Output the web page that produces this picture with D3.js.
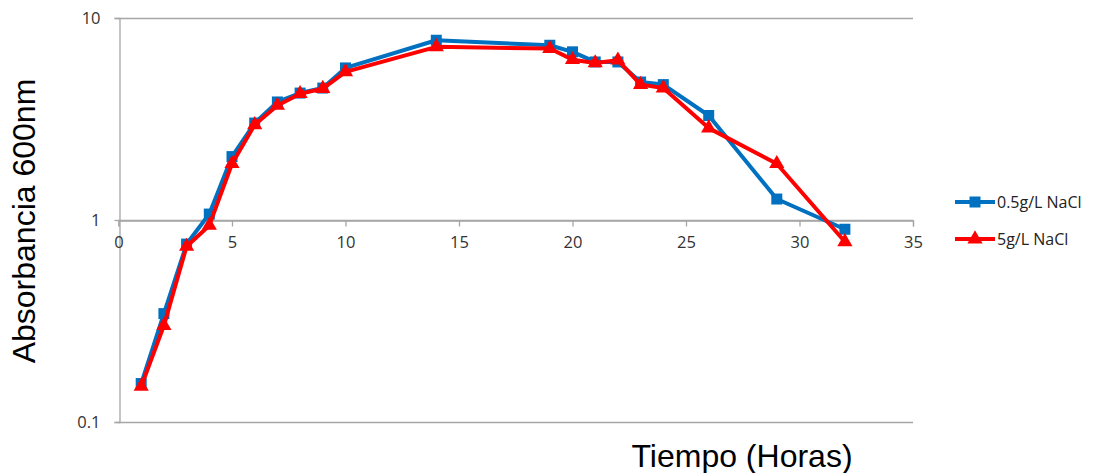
<!DOCTYPE html>
<html><head><meta charset="utf-8">
<script src="https://cdn.jsdelivr.net/npm/d3@7"></script>
<style>body{margin:0;background:#fff}</style>
</head><body><svg id="c" width="1096" height="473"></svg>
<script>
const hours = [1,2,3,4,5,6,7,8,9,10,14,19,20,21,22,23,24,26,29,32];
const lowSalt = [0.155,0.344,0.76,1.07,2.06,3.02,3.84,4.25,4.5,5.66,7.76,7.33,6.8,6.06,6.06,4.82,4.68,3.29,1.27,0.90];
const highSalt = [0.15,0.30,0.74,0.94,1.90,2.96,3.69,4.22,4.47,5.41,7.2,7.06,6.22,5.99,6.18,4.68,4.5,2.85,1.90,0.78];
const seriesNames = ["0.5g/L NaCl","5g/L NaCl"];
const xTicks = [0,5,10,15,20,25,30,35];
const yTicks = [0.1,1,10];
const yTickLabels = ["0.1","1","10"];

const svg = d3.select("#c");
const x = d3.scaleLinear().domain([0,35]).range([118.5,913]);
const y = d3.scaleLog().domain([0.1,10]).range([422,18]);
const grid = "#a6a6a6";
const tickFont = "'Open Sans', sans-serif";

// horizontal gridlines
svg.append("g").selectAll("line").data(yTicks).join("line")
  .attr("x1",x(0)).attr("x2",x(35)).attr("y1",d=>Math.round(y(d))+0.5).attr("y2",d=>Math.round(y(d))+0.5)
  .attr("stroke",grid).attr("stroke-width",1.3);

// y axis
const yAxis = d3.axisLeft(y).tickValues(yTicks).tickFormat((d,i)=>yTickLabels[i]).tickSizeOuter(0).tickSize(5).tickPadding(14);
const gy = svg.append("g").attr("transform",`translate(${Math.round(x(0))+0.5},0)`).call(yAxis);
gy.select(".domain").attr("stroke",grid).attr("stroke-width",1.3);
gy.selectAll(".tick line").attr("stroke",grid).attr("stroke-width",1.3);
gy.selectAll(".tick text").attr("font-family",tickFont).attr("font-size",16.5).attr("fill","#333");

// x axis at y=1
const xAxis = d3.axisBottom(x).tickValues(xTicks).tickSizeOuter(0).tickSize(6).tickPadding(10);
const gx = svg.append("g").attr("transform",`translate(0,${Math.round(y(1))+0.5})`).call(xAxis);
gx.select(".domain").attr("stroke",grid).attr("stroke-width",1.3);
gx.selectAll(".tick line").attr("stroke",grid).attr("stroke-width",1.3);
gx.selectAll(".tick text").attr("font-family",tickFont).attr("font-size",16.5).attr("fill","#333");

const line = d3.line().x(d=>x(d[0])).y(d=>y(d[1]));
const blue = "#0070C0", red = "#FF0000";
const sq = d3.symbol().type(d3.symbolSquare).size(121);
const tri = d3.symbol().type(d3.symbolTriangle).size(100);

const d1 = hours.map((h,i)=>[h,lowSalt[i]]);
const d2 = hours.map((h,i)=>[h,highSalt[i]]);

svg.append("path").datum(d1).attr("d",line).attr("fill","none").attr("stroke",blue).attr("stroke-width",4).attr("stroke-linejoin","round");
svg.append("g").selectAll("path").data(d1).join("path").attr("d",sq)
  .attr("transform",d=>`translate(${x(d[0])},${y(d[1])})`).attr("fill",blue);
svg.append("path").datum(d2).attr("d",line).attr("fill","none").attr("stroke",red).attr("stroke-width",4).attr("stroke-linejoin","round");
svg.append("g").selectAll("path").data(d2).join("path").attr("d",tri)
  .attr("transform",d=>`translate(${x(d[0])},${y(d[1])})`).attr("fill",red);

// legend
const legY = [202,239];
const legColors = [blue, red];
const legSym = [sq, tri];
seriesNames.forEach((n,i)=>{
  const g = svg.append("g");
  g.append("line").attr("x1",955).attr("x2",995).attr("y1",legY[i]).attr("y2",legY[i]).attr("stroke",legColors[i]).attr("stroke-width",4);
  g.append("path").attr("d",legSym[i]).attr("transform",`translate(975,${legY[i]})`).attr("fill",legColors[i]);
  g.append("text").attr("x",997).attr("y",legY[i]).attr("dy","0.36em").attr("font-family",tickFont).attr("font-size",16).attr("fill","#222").text(n);
});

// axis titles
svg.append("text").attr("transform","translate(35,221) rotate(-90)").attr("text-anchor","middle")
  .attr("font-family","'Liberation Sans', Arial, sans-serif").attr("font-size",32).attr("fill","#000").text("Absorbancia 600nm");
svg.append("text").attr("x",742).attr("y",467).attr("text-anchor","middle")
  .attr("font-family","'Liberation Sans', Arial, sans-serif").attr("font-size",32).attr("fill","#000").text("Tiempo (Horas)");
</script></body></html>
